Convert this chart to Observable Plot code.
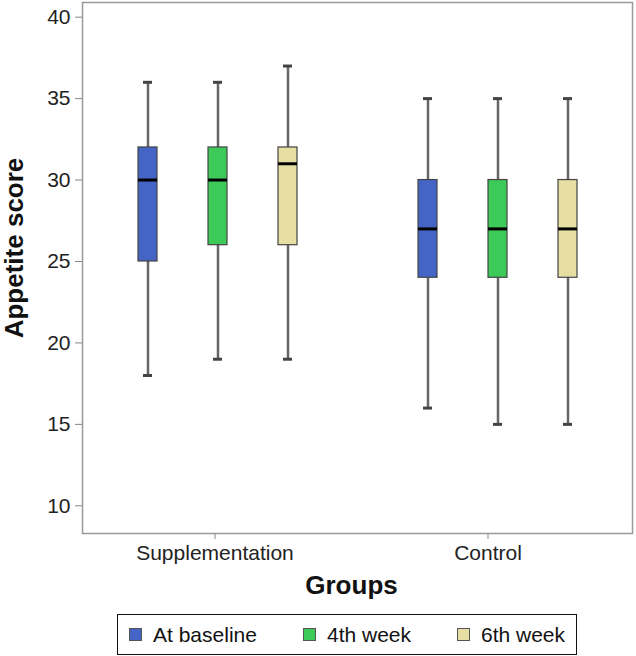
<!DOCTYPE html>
<html>
<head>
<meta charset="utf-8">
<script src="https://cdn.jsdelivr.net/npm/d3@7"></script>
<script src="https://cdn.jsdelivr.net/npm/@observablehq/plot@0.6"></script>
<style>
  html, body { margin: 0; padding: 0; background: #fff; }
  body { font-family: "Liberation Sans", Arial, sans-serif; width: 636px; }
  #legend { position: relative; margin-left: 117px; margin-top: 14px; width: 458px; height: 39px; border: 1px solid #111; }
  .item { position: absolute; top: 0; height: 39px; display: flex; align-items: center; font-size: 21px; color: #111; }
  .sw { width: 11px; height: 11px; border: 1px solid #555; margin-right: 11px; }
</style>
</head>
<body>
<div id="chart"></div>
<div id="legend"></div>
<script>
const groups = ["Supplementation", "Supplementation", "Supplementation", "Control", "Control", "Control"];
const times = ["At baseline", "4th week", "6th week", "At baseline", "4th week", "6th week"];
const mins = [18, 19, 19, 16, 15, 15];
const q1s = [25, 26, 26, 24, 24, 24];
const medians = [30, 30, 31, 27, 27, 27];
const q3s = [32, 32, 32, 30, 30, 30];
const maxs = [36, 36, 37, 35, 35, 35];
const timeNames = ["At baseline", "4th week", "6th week"];
const colors = ["#4465c6", "#3dca58", "#e6dea3"];
const yTicks = [10, 15, 20, 25, 30, 35, 40];
const groupNames = ["Supplementation", "Control"];

const rows = groups.map((g, i) => ({
  key: g + "|" + times[i], group: g, time: times[i],
  min: mins[i], q1: q1s[i], median: medians[i], q3: q3s[i], max: maxs[i]
}));
const domain = [...rows.slice(0, 3).map(d => d.key), "gap", ...rows.slice(3).map(d => d.key)];
const midKeys = groupNames.map(g => g + "|4th week");

const plot = Plot.plot({
  width: 636, height: 600,
  marginLeft: 82, marginRight: 4, marginTop: 2, marginBottom: 67,
  style: { fontFamily: "'Liberation Sans', Arial, sans-serif", fontSize: "21px", color: "#222" },
  x: { type: "band", domain, paddingInner: 0.73, paddingOuter: 0.74, axis: null },
  y: { domain: [8.3, 40.9], axis: null },
  color: { domain: timeNames, range: colors },
  marks: [
    Plot.frame({ stroke: "#999", strokeWidth: 1.5 }),
    Plot.axisY({ ticks: yTicks, tickSize: 7, tickPadding: 5, stroke: "#888", label: null, fontSize: 21 }),
    Plot.axisX({ ticks: [midKeys[0]], tickFormat: d => d.split("|")[0], tickSize: 6, tickPadding: 6, stroke: "#888", label: null, fontSize: 21, dx: -3 }),
    Plot.axisX({ ticks: [midKeys[1]], tickFormat: d => d.split("|")[0], tickSize: 6, tickPadding: 6, stroke: "#888", label: null, fontSize: 21, dx: -10 }),
    Plot.ruleX(rows, { x: "key", y1: "min", y2: "max", stroke: "#666", strokeWidth: 2.5 }),
    Plot.tickY(rows, { x: "key", y: "min", stroke: "#444", strokeWidth: 3, insetLeft: 5, insetRight: 5 }),
    Plot.tickY(rows, { x: "key", y: "max", stroke: "#444", strokeWidth: 3, insetLeft: 5, insetRight: 5 }),
    Plot.barY(rows, { x: "key", y1: "q1", y2: "q3", fill: "time", stroke: "#444", strokeWidth: 1.2 }),
    Plot.tickY(rows, { x: "key", y: "median", stroke: "#000", strokeWidth: 3 }),
    Plot.text(["Appetite score"], { frameAnchor: "left", textAnchor: "middle", lineAnchor: "middle", rotate: -90, dx: -68, dy: -20, fontSize: 26, fontWeight: "bold", fill: "#111" }),
    Plot.text(["Groups"], { frameAnchor: "bottom", textAnchor: "middle", lineAnchor: "middle", dy: 52, dx: -6, fontSize: 26, fontWeight: "bold", fill: "#111" })
  ]
});
document.getElementById("chart").appendChild(plot);

const legend = document.getElementById("legend");
const lefts = [11, 185, 339];
timeNames.forEach((t, i) => {
  const it = document.createElement("div");
  it.className = "item";
  it.style.left = lefts[i] + "px";
  const sw = document.createElement("span");
  sw.className = "sw";
  sw.style.background = colors[i];
  it.appendChild(sw);
  it.appendChild(document.createTextNode(t));
  legend.appendChild(it);
});
</script>
</body>
</html>
